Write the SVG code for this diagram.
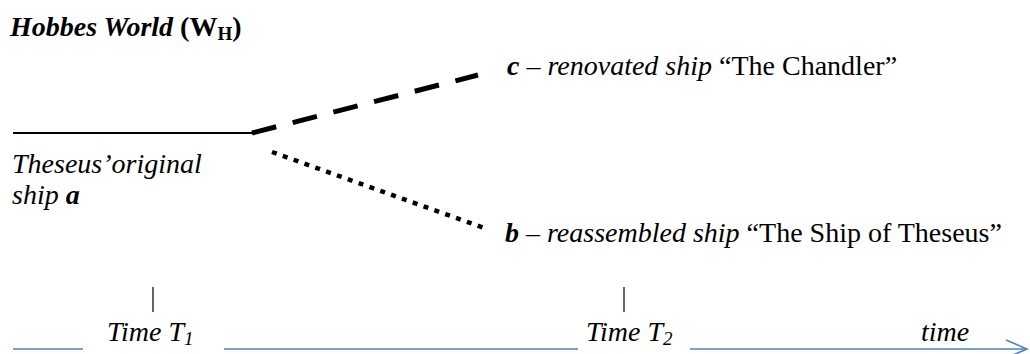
<svg xmlns="http://www.w3.org/2000/svg" width="1030" height="354" viewBox="0 0 1030 354">
<style>
text{font-family:'Liberation Serif','Times New Roman',Tinos,'DejaVu Serif',serif;font-size:28px;fill:#000}
.i{font-style:italic}
.b{font-weight:bold}
.blue{stroke:#4F81BD;stroke-width:1.6;fill:none}
.tick{stroke:#000;stroke-width:1.2}
</style>
<rect width="1030" height="354" fill="#fff"/>
<g id="title">
<text x="10" y="36" font-family="Liberation Serif, serif"><tspan class="b i">Hobbes World</tspan><tspan class="b"> (W</tspan><tspan class="b" font-size="19" dy="4">H</tspan><tspan class="b" dy="-4">)</tspan></text>
</g>
<g id="node-a">
<text class="i" x="12" y="173" font-family="Liberation Serif, serif">Theseus’original</text>
<text class="i" x="12" y="204" font-family="Liberation Serif, serif">ship <tspan class="b">a</tspan></text>
</g>
<g id="node-c">
<text x="507" y="75" font-family="Liberation Serif, serif"><tspan class="b i">c</tspan> – <tspan class="i">renovated ship</tspan> “The Chandler”</text>
</g>
<g id="node-b">
<text x="505" y="242" font-family="Liberation Serif, serif"><tspan class="b i">b</tspan> – <tspan class="i">reassembled ship</tspan> “The Ship of Theseus”</text>
</g>
<g id="connectors">
<line x1="13" y1="133" x2="252" y2="133" stroke="#000" stroke-width="1.8"/>
<line x1="252" y1="133" x2="478" y2="75" stroke="#000" stroke-width="5" stroke-dasharray="25 17"/>
<line x1="272" y1="152" x2="487" y2="229" stroke="#000" stroke-width="4.5" stroke-dasharray="5 6.5"/>
</g>
<g id="timeline">
<line class="blue" x1="13" y1="349" x2="83" y2="349"/>
<line class="blue" x1="224" y1="349" x2="578" y2="349"/>
<line class="blue" x1="690" y1="349" x2="1026" y2="349"/>
<polyline class="blue" points="1006,340 1027,349 1006,358"/>
<line class="tick" x1="153" y1="287" x2="153" y2="312"/>
<line class="tick" x1="624" y1="287" x2="624" y2="312"/>
<text class="i" x="107" y="341" font-family="Liberation Serif, serif">Time T<tspan font-size="19" dy="4">1</tspan></text>
<text class="i" x="586" y="341" font-family="Liberation Serif, serif">Time T<tspan font-size="19" dy="4">2</tspan></text>
<text class="i" x="921" y="341" font-family="Liberation Serif, serif">time</text>
</g>
</svg>
